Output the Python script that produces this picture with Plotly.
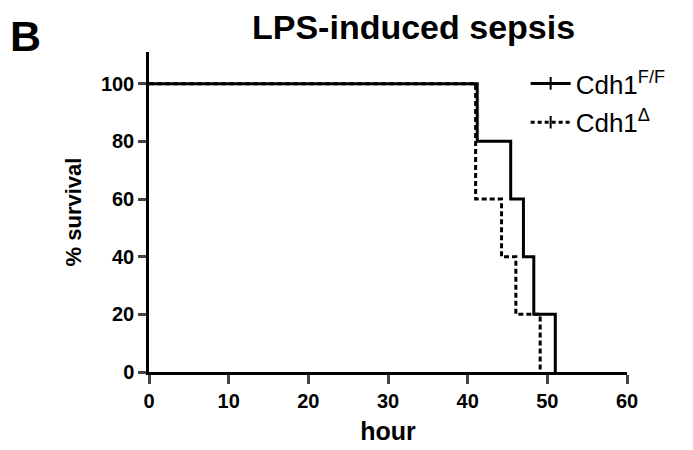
import plotly.graph_objects as go

# Kaplan-Meier step data (hours, % survival)
ff_hours = [0, 41.2, 45.4, 47.0, 48.3, 51.0]
ff_surv = [100, 80, 60, 40, 20, 0]
delta_hours = [0, 41.0, 44.25, 46.05, 49.1]
delta_surv = [100, 60, 40, 20, 0]

x_ticks = [0, 10, 20, 30, 40, 50, 60]
y_ticks = [0, 20, 40, 60, 80, 100]

FONT = "Liberation Sans, Arial, sans-serif"

fig = go.Figure()

fig.add_trace(go.Scatter(
    x=ff_hours, y=ff_surv, mode="lines", line_shape="hv",
    line=dict(color="black", width=3), showlegend=False, cliponaxis=False))
fig.add_trace(go.Scatter(
    x=delta_hours, y=delta_surv, mode="lines", line_shape="hv",
    line=dict(color="black", width=3, dash="5px,3px"), showlegend=False, cliponaxis=False))

# legend entries
fig.add_trace(go.Scatter(
    x=[None], y=[None], mode="lines+markers", name="Cdh1<sup>F/F</sup>",
    line=dict(color="black", width=3),
    marker=dict(symbol="line-ns-open", size=9, line=dict(width=2, color="black")),
    legendgroup="a"))
fig.add_trace(go.Scatter(
    x=[None], y=[None], mode="lines+markers", name="Cdh1<sup>Δ</sup>",
    line=dict(color="black", width=3, dash="4px,3px"),
    marker=dict(symbol="line-ns-open", size=9, line=dict(width=2, color="black")),
    legendgroup="b"))

# page body has an 8px margin, so the figure is drawn 8px smaller
fig.update_layout(
    width=685, height=442,
    margin=dict(l=141, r=66, t=44, b=78, autoexpand=False),
    paper_bgcolor="white", plot_bgcolor="white",
    font=dict(family=FONT, color="black"),
    legend=dict(x=0.788, y=0.975, xanchor="left", yanchor="top",
                font=dict(size=26, family=FONT, color="black"),
                bgcolor="rgba(0,0,0,0)", tracegroupgap=2, itemwidth=40),
    xaxis=dict(range=[0, 60], tickvals=x_ticks, ticks="outside", ticklen=9, tickwidth=2.5,
               showline=True, linewidth=2.5, linecolor="black", showgrid=False, zeroline=False,
               automargin=False,
               tickfont=dict(size=20, family=FONT, weight="bold"),
               title=dict(text="hour", font=dict(size=25, family=FONT, weight="bold"), standoff=12)),
    yaxis=dict(range=[0, 111], tickvals=y_ticks, ticks="outside", ticklen=8, tickwidth=2.5,
               showline=True, linewidth=2.5, linecolor="black", showgrid=False, zeroline=False,
               automargin=False,
               tickfont=dict(size=20, family=FONT, weight="bold"),
               title=dict(text="% survival", font=dict(size=22, family=FONT, weight="bold"), standoff=14)),
    annotations=[
        dict(text="LPS-induced sepsis", x=0.553, y=1.077, xref="paper", yref="paper",
             xanchor="center", yanchor="middle", showarrow=False,
             font=dict(size=34, family=FONT, weight="bold")),
        dict(text="B", x=-0.259, y=1.05, xref="paper", yref="paper",
             xanchor="center", yanchor="middle", showarrow=False,
             font=dict(size=43, family=FONT, weight="bold")),
    ],
)

fig.write_html("out.html")
